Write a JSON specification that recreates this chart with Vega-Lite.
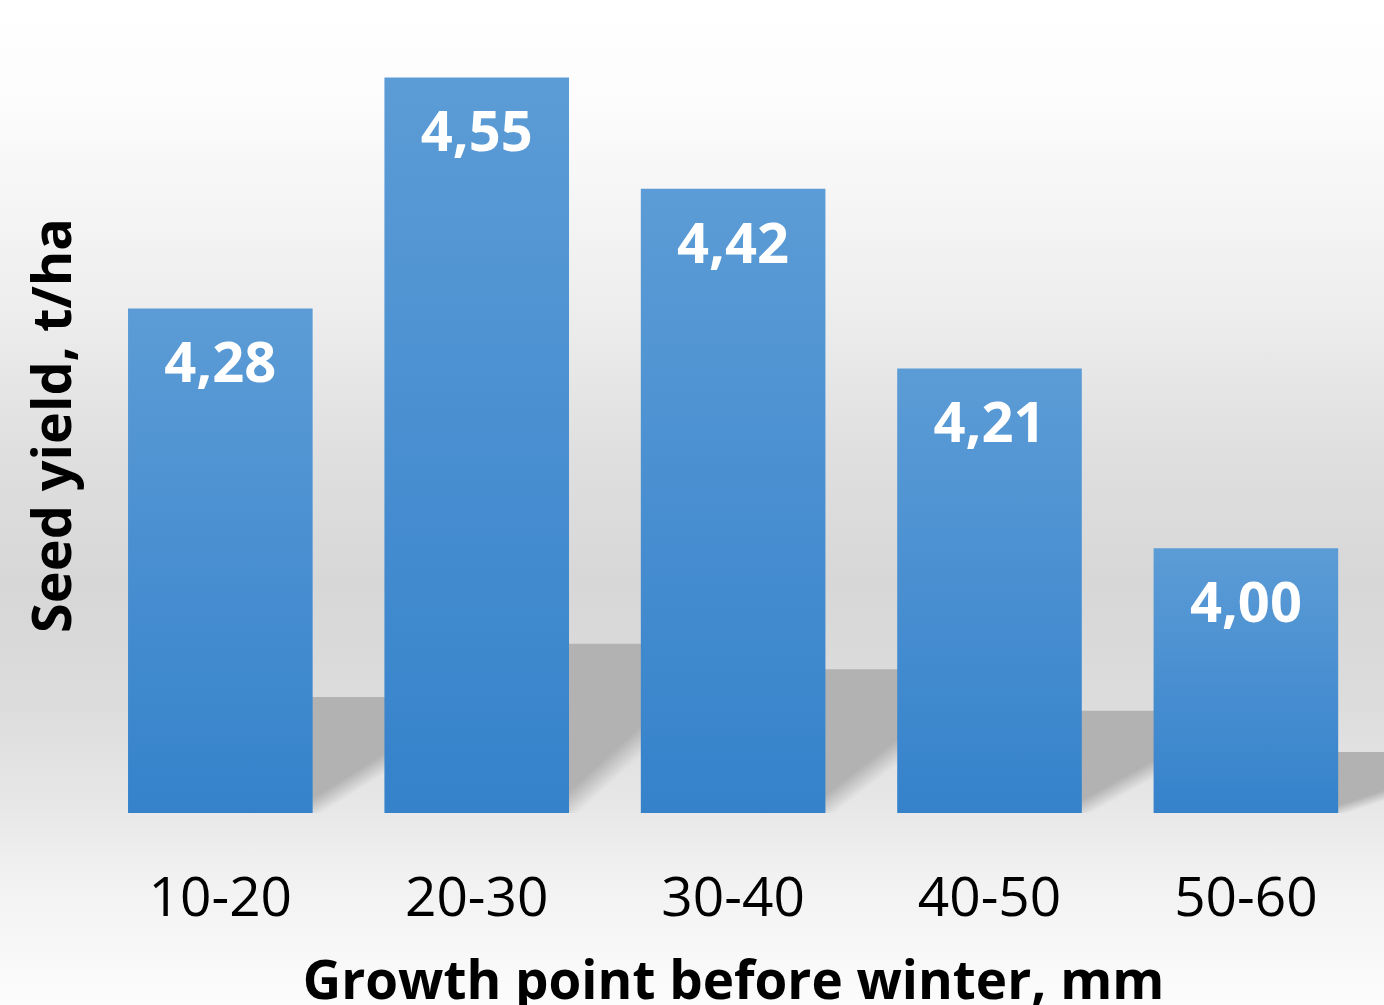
{
  "$schema": "https://vega.github.io/schema/vega-lite/v6.json",
  "width": 1384,
  "height": 1005,
  "autosize": "none",
  "padding": 0,
  "background": "#f7f7f7",
  "view": {
    "stroke": null,
    "fill": {
      "gradient": "linear",
      "x1": 0, "y1": 0, "x2": 0, "y2": 1,
      "stops": [
        {"offset": 0, "color": "#ffffff"},
        {"offset": 0.1, "color": "#fcfcfc"},
        {"offset": 0.3, "color": "#eeeeee"},
        {"offset": 0.45, "color": "#dfdfdf"},
        {"offset": 0.58, "color": "#d7d7d7"},
        {"offset": 0.7, "color": "#dcdcdc"},
        {"offset": 0.8, "color": "#e7e7e7"},
        {"offset": 0.88, "color": "#f2f2f2"},
        {"offset": 1, "color": "#fcfcfc"}
      ]
    }
  },
  "config": {
    "locale": {"number": {"decimal": ",", "thousands": " ", "grouping": [3], "currency": ["", ""]}},
    "axis": {"labelFont": "Open Sans", "titleFont": "Open Sans", "labelColor": "#000000", "titleColor": "#000000", "grid": false}
  },
  "data": {
    "values": [
      {"range": "10-20", "yield": 4.28},
      {"range": "20-30", "yield": 4.55},
      {"range": "30-40", "yield": 4.42},
      {"range": "40-50", "yield": 4.21},
      {"range": "50-60", "yield": 4.00}
    ]
  },
  "resolve": {"scale": {"y": "independent"}},
  "layer": [
    {
      "mark": {
        "type": "bar",
        "xOffset": 76,
        "clip": true,
        "color": {
          "gradient": "linear",
          "x1": 0, "y1": 0, "x2": 1, "y2": 1,
          "stops": [
            {"offset": 0, "color": "rgba(178,178,178,1)"},
            {"offset": 0.73, "color": "rgba(178,178,178,1)"},
            {"offset": 0.82, "color": "rgba(178,178,178,0)"},
            {"offset": 1, "color": "rgba(178,178,178,0)"}
          ]
        }
      },
      "encoding": {
        "x": {
          "field": "range", "type": "nominal", "sort": null,
          "scale": {"paddingInner": 0.28, "paddingOuter": 0.339, "align": 0.7365},
          "axis": {
            "orient": "bottom", "offset": -192, "domain": false, "ticks": false, "tickSize": 0,
            "labelAngle": 0, "labelFontSize": 55, "labelPadding": 59,
            "title": "Growth point before winter, mm", "titleFontSize": 53, "titleFontWeight": "bold", "titlePadding": 30,
            "titleX": 733, "titleAlign": "center"
          }
        },
        "y": {
          "field": "yield", "type": "quantitative",
          "scale": {"domain": [2.716, 7.8176], "zero": false, "nice": false},
          "axis": null
        },
        "y2": {"datum": 3.6906}
      }
    },
    {
      "layer": [
        {
          "mark": {
            "type": "bar",
            "color": {
              "gradient": "linear",
              "x1": 0, "y1": 0, "x2": 0, "y2": 1,
              "stops": [
                {"offset": 0, "color": "#5c9cd6"},
                {"offset": 1, "color": "#3582cb"}
              ]
            }
          },
          "encoding": {
            "x": {
              "field": "range", "type": "nominal", "sort": null,
              "scale": {"paddingInner": 0.28, "paddingOuter": 0.339, "align": 0.7365},
              "axis": {
                "orient": "bottom", "offset": -192, "domain": false, "ticks": false, "tickSize": 0,
                "labelAngle": 0, "labelFontSize": 55, "labelPadding": 59,
                "title": "Growth point before winter, mm", "titleFontSize": 53, "titleFontWeight": "bold", "titlePadding": 30,
                "titleX": 733, "titleAlign": "center"
              }
            },
            "y": {
              "field": "yield", "type": "quantitative",
              "scale": {"domain": [3.4663, 4.6404], "zero": false, "nice": false},
              "axis": {
                "orient": "left", "domain": false, "ticks": false, "labels": false, "grid": false,
                "title": "Seed yield, t/ha", "titleFontSize": 54, "titleFontWeight": "bold",
                "titleAngle": 270, "titleBaseline": "alphabetic", "titleAlign": "center",
                "titleX": 70, "titleY": 425
              }
            },
            "y2": {"datum": 3.6906}
          }
        },
        {
          "mark": {
            "type": "text",
            "baseline": "alphabetic",
            "align": "center",
            "dy": 74,
            "font": "Open Sans",
            "fontSize": 56,
            "fontWeight": "bold",
            "color": "#ffffff"
          },
          "encoding": {
            "x": {
              "field": "range", "type": "nominal", "sort": null,
              "scale": {"paddingInner": 0.28, "paddingOuter": 0.339, "align": 0.7365}
            },
            "y": {"field": "yield", "type": "quantitative"},
            "text": {"field": "yield", "type": "quantitative", "format": ".2f"}
          }
        }
      ]
    }
  ]
}
